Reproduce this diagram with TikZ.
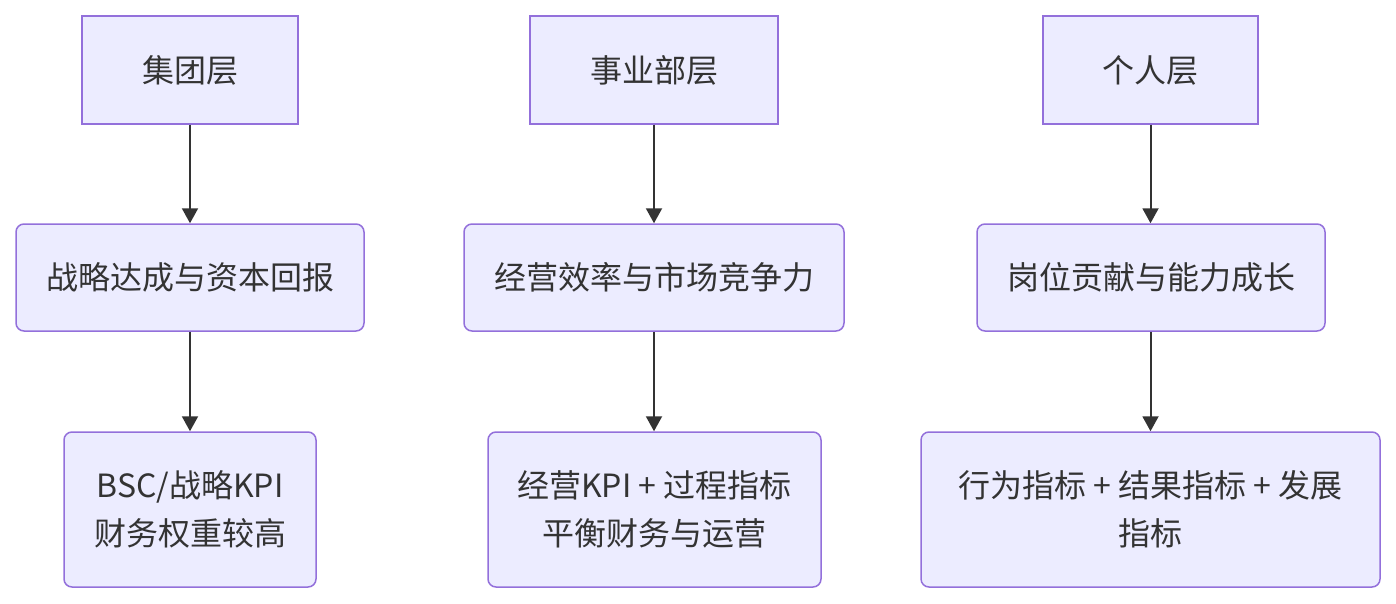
\documentclass[tikz,border=0pt]{standalone}
\usepackage{fontspec}
\setmainfont{Noto Sans CJK SC}
\usetikzlibrary{arrows.meta}
\definecolor{boxfill}{HTML}{ECECFF}
\definecolor{boxline}{HTML}{9370DB}
\definecolor{ink}{HTML}{333333}
\tikzset{
  base/.style={draw=boxline, fill=boxfill, line width=1.5pt, text=ink, align=center,
    font=\fontsize{32}{48}\selectfont, inner sep=0pt},
  headbox/.style={base},
  roundbox/.style={base, rounded corners=8pt},
  conn/.style={draw=ink, line width=2pt, -{Triangle[length=15pt,width=16pt]}}
}
\begin{document}
\begin{tikzpicture}[x=1pt,y=-1pt]
\useasboundingbox (0,0) rectangle (1396,604);
\node[headbox, minimum width=216pt, minimum height=108pt] (g1) at (190,70) {集团层};
\node[headbox, minimum width=248pt, minimum height=108pt] (g2) at (654,70) {事业部层};
\node[headbox, minimum width=215pt, minimum height=108pt] (g3) at (1150.5,70) {个人层};
\node[roundbox, minimum width=348pt, minimum height=107pt] (m1) at (190,277.5) {战略达成与资本回报};
\node[roundbox, minimum width=380pt, minimum height=107pt] (m2) at (654,277.5) {经营效率与市场竞争力};
\node[roundbox, minimum width=348pt, minimum height=107pt] (m3) at (1151,277.5) {岗位贡献与能力成长};
\node[roundbox, minimum width=252pt, minimum height=155pt] (b1) at (190,509.5) {BSC/战略KPI\\财务权重较高};
\node[roundbox, minimum width=333pt, minimum height=155pt] (b2) at (654.5,509.5) {经营KPI + 过程指标\\平衡财务与运营};
\node[roundbox, minimum width=459pt, minimum height=155pt] (b3) at (1150.5,509.5) {行为指标 + 结果指标 + 发展\\指标};
\draw[conn] (g1.south -| m1.north) -- (m1.north);
\draw[conn] (m1.south) -- (m1.south |- b1.north);
\draw[conn] (g2.south) -- (g2.south |- m2.north);
\draw[conn] (m2.south) -- (m2.south |- b2.north);
\draw[conn] (g3.south) -- (g3.south |- m3.north);
\draw[conn] (g3.south |- m3.south) -- (g3.south |- b3.north);
\end{tikzpicture}
\end{document}
